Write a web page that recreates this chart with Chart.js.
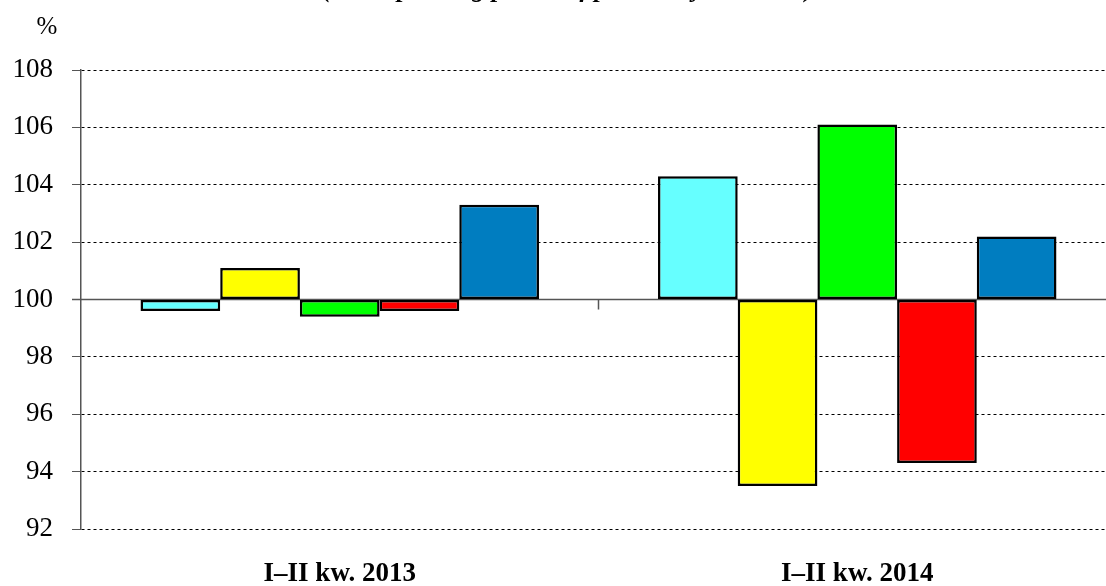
<!DOCTYPE html>
<html>
<head>
<meta charset="utf-8">
<script src="https://cdn.jsdelivr.net/npm/chart.js@4/dist/chart.umd.min.js"></script>
<style>
  html, body { margin: 0; padding: 0; background: #fff; overflow: hidden; }
  #wrap { width: 1120px; height: 586px; position: relative; }
</style>
</head>
<body>
<div id="wrap"><canvas id="chart"></canvas></div>
<script>
const categories = ['I\u2013II kw. 2013', 'I\u2013II kw. 2014'];
const seriesCyan = [99.6, 104.3];
const seriesYellow = [101.1, 93.5];
const seriesGreen = [99.4, 106.1];
const seriesRed = [99.6, 94.3];
const seriesBlue = [103.3, 102.2];
const yTicks = [92, 94, 96, 98, 100, 102, 104, 106, 108];
const baseValue = 100;
const titleText = '(corresponding period of previous year = 100)';

// Title is cut off at the top of the picture, only the descenders show
const overlay = {
    id: 'overlay',
    beforeDatasetsDraw(chart) {
        const c = chart.ctx;
        const x = chart.scales.x;
        const y = chart.scales.y;
        const yb = y.getPixelForValue(baseValue);
        c.save();
        c.strokeStyle = '#555';
        c.lineWidth = 1.5;
        c.beginPath();
        c.moveTo(y.right - 9, yb);
        c.lineTo(chart.width, yb);
        // small divider tick between the two periods
        const xm = (x.getPixelForValue(0) + x.getPixelForValue(1)) / 2;
        c.moveTo(xm, yb);
        c.lineTo(xm, yb + 10);
        c.stroke();
        c.restore();
    },
    afterDraw(chart) {
        const c = chart.ctx;
        c.save();
        c.fillStyle = '#000';
        c.textAlign = 'center';
        c.textBaseline = 'alphabetic';
        c.font = 'italic bold 26px "Liberation Serif"';
        c.fillText(titleText, 568, -3);
        c.textBaseline = 'middle';
        c.font = '25px "Liberation Serif"';
        c.fillText('%', 47, 27);
        c.restore();
    }
};

function bar(label, data, color) {
    return {
        label: label,
        data: data,
        base: baseValue,
        backgroundColor: color,
        borderColor: '#000',
        borderWidth: 2.5,
        borderSkipped: false,
        categoryPercentage: 0.77,
        barPercentage: 1.0
    };
}

new Chart(document.getElementById('chart'), {
    type: 'bar',
    data: {
        labels: categories,
        datasets: [
            bar('Seria 1', seriesCyan, '#66FFFF'),
            bar('Seria 2', seriesYellow, '#FFFF00'),
            bar('Seria 3', seriesGreen, '#00FF00'),
            bar('Seria 4', seriesRed, '#FF0000'),
            bar('Seria 5', seriesBlue, '#007DC0')
        ]
    },
    options: {
        responsive: true,
        maintainAspectRatio: false,
        animation: false,
        layout: { padding: { top: 70, right: 4, left: 0, bottom: 0 } },
        plugins: {
            legend: { display: false },
            tooltip: { enabled: false }
        },
        scales: {
            x: {
                grid: { display: false },
                border: { display: false },
                ticks: {
                    color: '#000',
                    padding: 21,
                    font: { family: 'Liberation Serif', size: 27, weight: 'bold' }
                },
                afterFit(scale) { scale.height = 57; }
            },
            y: {
                min: 92,
                max: 108,
                afterBuildTicks(scale) {
                    scale.ticks = yTicks.map(v => ({ value: v }));
                },
                grid: {
                    color: ctx => ctx.tick && ctx.tick.value === baseValue ? 'rgba(0,0,0,0)' : '#000',
                    tickColor: '#555',
                    tickLength: 9,
                    lineWidth: 1
                },
                border: { display: true, color: '#555', width: 1.5, dash: [3, 3] },
                ticks: {
                    color: '#000',
                    padding: 19,
                    font: { family: 'Liberation Serif', size: 27 }
                },
                afterFit(scale) { scale.width = 81; }
            }
        }
    },
    plugins: [overlay]
});
</script>
</body>
</html>
